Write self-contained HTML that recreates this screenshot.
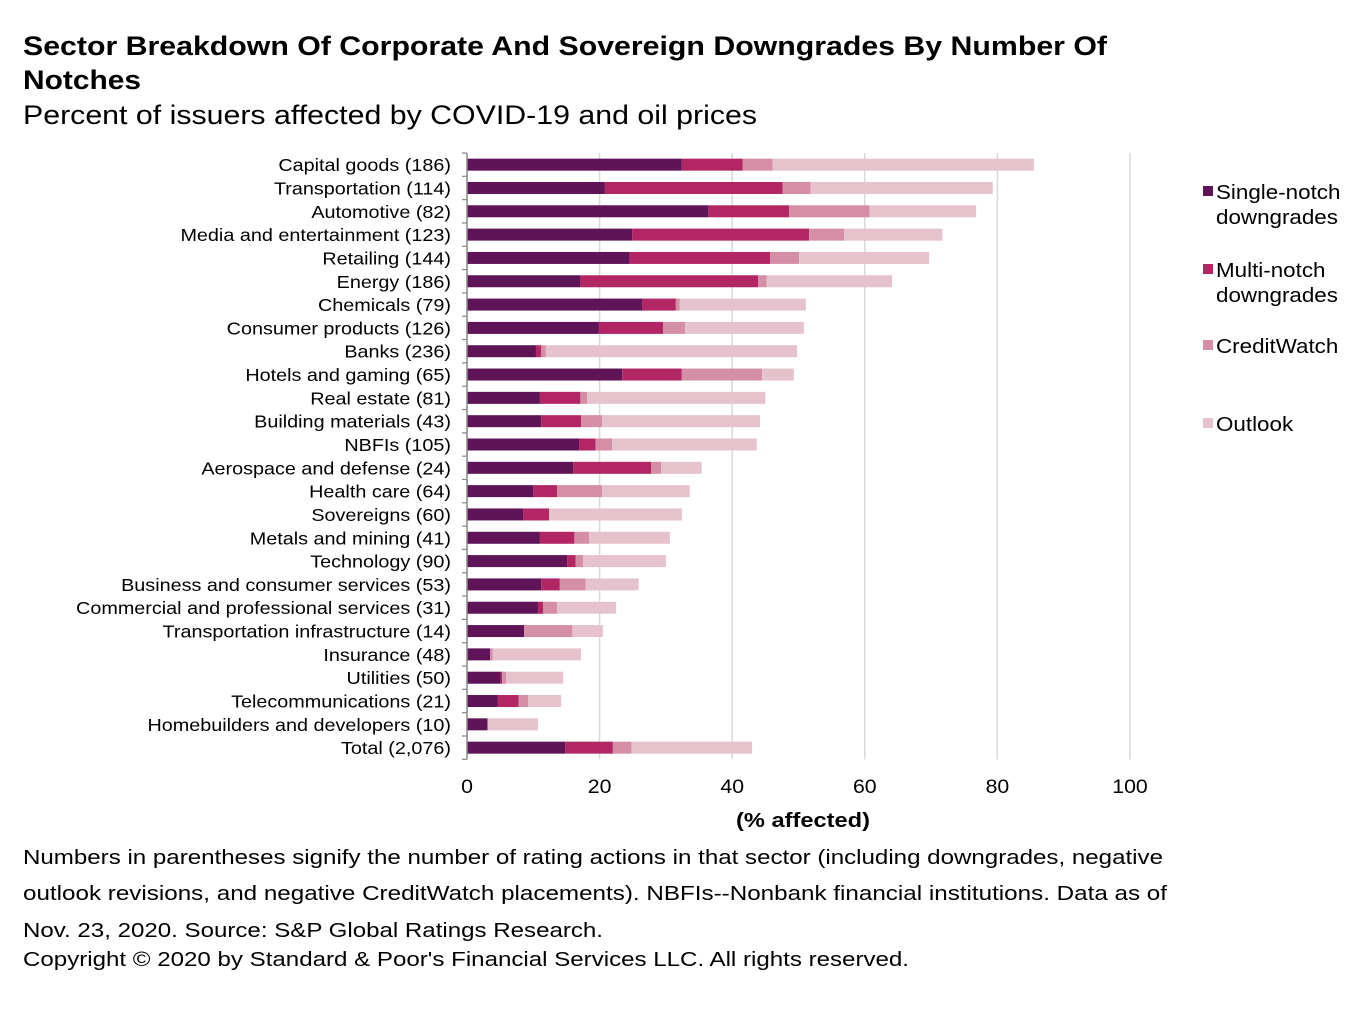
<!DOCTYPE html>
<html><head><meta charset="utf-8"><style>
body{margin:0;background:#fff;}
svg{display:block;font-family:"Liberation Sans",Arial,sans-serif;}
</style></head><body>
<svg id="chart" width="1372" height="1024" viewBox="0 0 1372 1024">
<text x="23" y="55" font-size="27" font-weight="bold" fill="#000" textLength="1084" lengthAdjust="spacingAndGlyphs">Sector Breakdown Of Corporate And Sovereign Downgrades By Number Of</text>
<text x="23" y="89" font-size="27" font-weight="bold" fill="#000" textLength="118" lengthAdjust="spacingAndGlyphs">Notches</text>
<text x="23" y="124" font-size="27" fill="#000" textLength="734" lengthAdjust="spacingAndGlyphs">Percent of issuers affected by COVID-19 and oil prices</text>
<g id="grid"></g><g id="bars"></g><g id="labels"></g><g id="axis"></g>
<text x="803" y="827" font-size="20" font-weight="bold" text-anchor="middle" textLength="134" lengthAdjust="spacingAndGlyphs">(% affected)</text>
<g id="legend"></g>
<g font-size="20.5" fill="#000">
<text x="23" y="864" textLength="1140" lengthAdjust="spacingAndGlyphs">Numbers in parentheses signify the number of rating actions in that sector (including downgrades, negative</text>
<text x="23" y="900" textLength="1144" lengthAdjust="spacingAndGlyphs">outlook revisions, and negative CreditWatch placements). NBFIs--Nonbank financial institutions. Data as of</text>
<text x="23" y="937" textLength="580" lengthAdjust="spacingAndGlyphs">Nov. 23, 2020. Source: S&amp;P Global Ratings Research.</text>
<text x="23" y="966" textLength="886" lengthAdjust="spacingAndGlyphs">Copyright © 2020 by Standard &amp; Poor's Financial Services LLC. All rights reserved.</text>
</g>
</svg>
<script>
const categories=["Capital goods (186)","Transportation (114)","Automotive (82)","Media and entertainment (123)","Retailing (144)","Energy (186)","Chemicals (79)","Consumer products (126)","Banks (236)","Hotels and gaming (65)","Real estate (81)","Building materials (43)","NBFIs (105)","Aerospace and defense (24)","Health care (64)","Sovereigns (60)","Metals and mining (41)","Technology (90)","Business and consumer services (53)","Commercial and professional services (31)","Transportation infrastructure (14)","Insurance (48)","Utilities (50)","Telecommunications (21)","Homebuilders and developers (10)","Total (2,076)"];
const singleNotch=[32.4,20.8,36.4,24.9,24.5,17.1,26.4,19.9,10.4,23.4,11.0,11.2,16.9,16.0,10.0,8.5,11.0,15.1,11.2,10.7,8.6,3.5,5.1,4.6,3.1,14.8];
const multiNotch=[9.2,26.8,12.2,26.7,21.2,26.8,5.1,9.7,0.8,9.0,6.1,6.0,2.5,11.8,3.6,3.9,5.2,1.3,2.8,0.8,0,0,0.2,3.2,0,7.2];
const creditWatch=[4.5,4.2,12.1,5.3,4.4,1.3,0.6,3.3,0.7,12.1,1.0,3.2,2.5,1.5,6.8,0,2.2,1.1,3.9,2.1,7.3,0.4,0.6,1.4,0,2.8];
const outlook=[39.4,27.5,16.1,14.8,19.6,18.9,19.0,17.9,37.9,4.8,26.9,23.8,21.8,6.1,13.2,20.0,12.2,12.5,8.0,8.9,4.6,13.3,8.6,5.0,7.6,18.2];
const xTicks=[0,20,40,60,80,100];
const seriesNames=["Single-notch downgrades","Multi-notch downgrades","CreditWatch","Outlook"];
const NS="http://www.w3.org/2000/svg";
const colors=["#5e1457","#b12663","#d48fa6","#e6c3cc"];
const SX=1.12;
const plotX0=467,plotX1=1130,plotTop=153,rowH=23.32;
const xs=v=>plotX0+(v/100)*(plotX1-plotX0);
const yc=i=>plotTop+rowH*(i+0.5);
const plotBottom=plotTop+rowH*categories.length;
function mk(tag,attrs,parent){const e=document.createElementNS(NS,tag);for(const k in attrs)e.setAttribute(k,attrs[k]);parent.appendChild(e);return e;}
function stext(x,y,size,anchor,parent,str,sx){const t=mk('text',{x:0,y:0,'font-size':size,'text-anchor':anchor,transform:`translate(${x},${y}) scale(${sx||SX},1)`},parent);t.textContent=str;return t;}
const grid=document.getElementById('grid'),bars=document.getElementById('bars'),labels=document.getElementById('labels'),axis=document.getElementById('axis'),legend=document.getElementById('legend');
xTicks.forEach(t=>{
  if(t>0){const l=mk('line',{x1:xs(t),x2:xs(t),y1:plotTop,y2:plotBottom,stroke:'#d9d9d9','stroke-width':1.5},grid);
  
  }
  const tx=stext(xs(t),793,19,'middle',axis,String(t));
  
  
});
const ax=mk('line',{x1:plotX0,x2:plotX0,y1:plotTop,y2:plotBottom,stroke:'#888','stroke-width':1.5},axis);


for(let i=0;i<=categories.length;i++){mk('line',{x1:plotX0-5,x2:plotX0,y1:plotTop+rowH*i,y2:plotTop+rowH*i,stroke:'#888','stroke-width':1.2},axis);}
const series=[singleNotch,multiNotch,creditWatch,outlook];
categories.forEach((c,i)=>{
  const t=stext(451,yc(i)+6.5,18,'end',labels,c,1.10);
  
  
  let acc=0;
  series.forEach((s,k)=>{
    const v=s[i];
    const r=mk('rect',{x:xs(acc),y:yc(i)-6,width:Math.max(0,xs(acc+v)-xs(acc)),height:12,fill:colors[k]},bars);
    
    
    acc+=v;
  });
});
const legY=[[192,217],[270,295],[346],[424]];
const legTxt=[["Single-notch","downgrades"],["Multi-notch","downgrades"],["CreditWatch"],["Outlook"]];
legTxt.forEach((lines,k)=>{
  const sq=mk('rect',{x:1203,y:legY[k][0]-6,width:10,height:10,fill:colors[k]},legend);
  
  
  lines.forEach((ln,j)=>{const t=stext(1216,legY[k][j]+7,20,'start',legend,ln);
  
  });
});
</script>
</body></html>
